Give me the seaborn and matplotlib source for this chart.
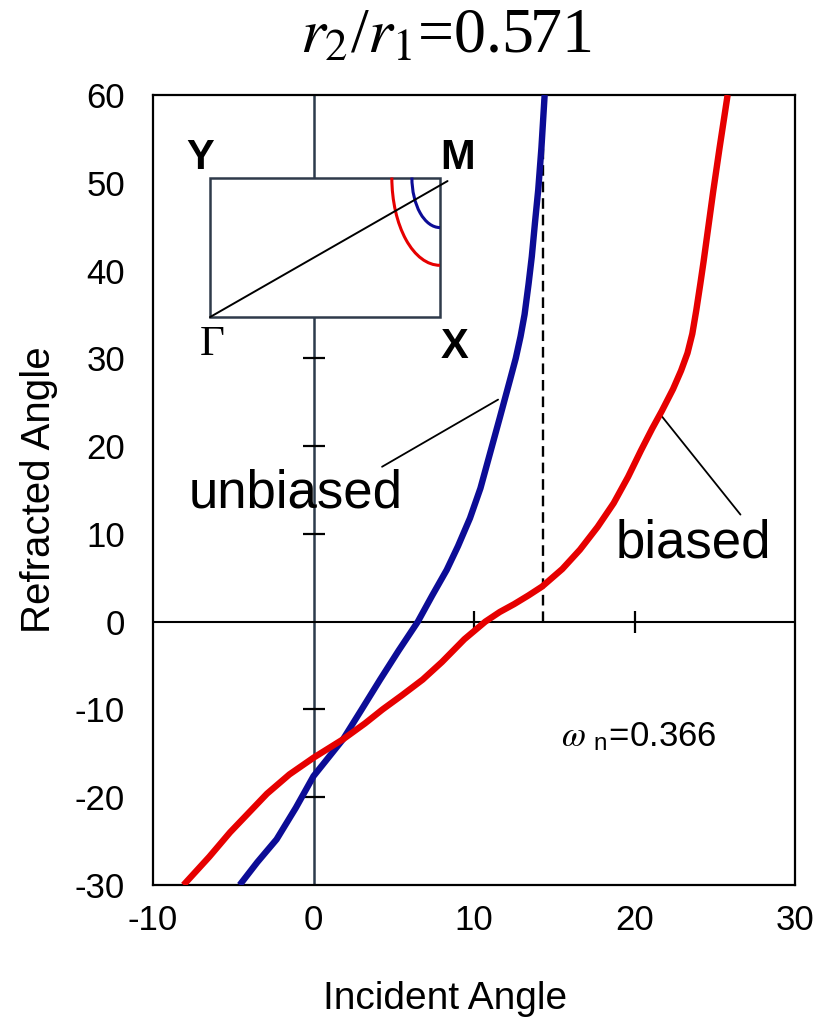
import numpy as np
import pandas as pd
import matplotlib
matplotlib.use("Agg")
import matplotlib.pyplot as plt
import seaborn as sns
from matplotlib.patches import Rectangle, Arc

# ---- data ----
unbiased_x = [-4.6, -3.5, -2.3, -1.1, 0.0, 1.84, 3.0, 4.15, 5.3, 6.5, 7.4, 8.3, 9.0,
              9.75, 10.4, 11.0, 11.6, 12.25, 12.6, 12.9, 13.15, 13.4, 13.6, 13.8,
              14.0, 14.2, 14.4]
unbiased_y = [-30.0, -27.4, -24.8, -21.2, -17.6, -13.4, -10.0, -6.6, -3.3, 0.0, 3.0, 5.9, 8.6,
              11.8, 15.2, 19.2, 23.2, 27.6, 30.0, 32.5, 35.0, 38.5, 41.6, 45.5,
              49.2, 54.0, 60.0]

biased_x = [-8.1, -6.5, -5.2, -2.9, -1.5, 0.0, 1.84, 3.2, 4.3, 5.5, 6.8, 8.0, 9.4, 10.7,
            11.6, 12.5, 13.4, 14.24, 15.5, 16.6, 17.7, 18.7, 19.6, 20.4, 21.1, 21.7,
            22.4, 22.9, 23.3, 23.6, 23.85, 24.1, 24.3, 24.6, 24.9, 25.3, 25.8]
biased_y = [-30.0, -26.8, -24.0, -19.6, -17.4, -15.5, -13.4, -11.6, -10.0, -8.4, -6.6, -4.6, -2.0, 0.0,
            1.1, 2.0, 3.0, 4.0, 6.0, 8.2, 10.8, 13.5, 16.5, 19.5, 22.0, 24.0,
            26.5, 28.6, 30.6, 32.8, 35.5, 38.5, 41.0, 45.0, 49.0, 54.0, 60.0]

cutoff_x = 14.3
x_ticks = [-10, 0, 10, 20, 30]
y_ticks = [-30, -20, -10, 0, 10, 20, 30, 40, 50, 60]
inner_x_ticks = [10, 20]
inner_y_ticks = [-20, -10, 10, 20, 30]

title = r"$r_2$/$r_1$=0.571"
omega_label = r"$\omega\ _\mathregular{n}$=0.366"

sns.set_theme(style="white")
plt.rcParams["font.family"] = ["Liberation Sans", "DejaVu Sans"]
plt.rcParams["mathtext.fontset"] = "stix"
plt.rcParams["axes.unicode_minus"] = False
for k in ["text.color", "axes.labelcolor", "xtick.color", "ytick.color"]:
    plt.rcParams[k] = "black"

df = pd.concat([
    pd.DataFrame({"x": unbiased_x, "y": unbiased_y, "s": "unbiased"}),
    pd.DataFrame({"x": biased_x, "y": biased_y, "s": "biased"}),
])

fig = plt.figure(figsize=(8.13, 10.23), dpi=100)
ax = fig.add_axes([0.1882, 0.1349, 0.7897, 0.7722])

# internal axes lines
ax.axvline(0, color="#2c3b4c", lw=1.8, zorder=1)
ax.axhline(0, color="black", lw=1.5, zorder=1)
ax.plot(inner_x_ticks, [0] * len(inner_x_ticks), ls="none", marker="|",
        ms=16, mew=1.6, color="black", zorder=1)
ax.plot([0] * len(inner_y_ticks), inner_y_ticks, ls="none", marker="_",
        ms=16, mew=1.6, color="black", zorder=1)

# dashed cutoff
ax.plot([cutoff_x, cutoff_x], [0, 60], color="black", lw=1.7,
        dashes=(4.5, 2.5), zorder=2)

sns.lineplot(data=df, x="x", y="y", hue="s", sort=False, estimator=None,
             palette={"unbiased": "#0c0c96", "biased": "#e60000"},
             lw=4.6, legend=False, ax=ax, zorder=4,
             solid_capstyle="butt", solid_joinstyle="round")

# inset Brillouin-zone sketch
x0, y0, w, h = -6.45, 34.7, 14.33, 15.9
ax.add_patch(Rectangle((x0, y0), w, h, facecolor="white", edgecolor="#2f3a4a",
                       lw=1.8, zorder=3))
ax.plot([x0, x0 + w + 0.47], [y0, y0 + h - 0.4], color="black", lw=1.4, zorder=3.5)
ax.add_patch(Arc((x0 + w, y0 + h), 2 * 3.0, 2 * 10.0, theta1=180, theta2=270,
                 color="#e60000", lw=2.2, zorder=3.4))
ax.add_patch(Arc((x0 + w, y0 + h), 2 * 1.75, 2 * 5.7, theta1=180, theta2=270,
                 color="#0c0c96", lw=2.2, zorder=3.4))
ax.text(-7.07, 52.8, "Y", fontsize=30, fontweight="bold", ha="center", va="center")
ax.text(9.0, 52.8, "M", fontsize=30, fontweight="bold", ha="center", va="center")
ax.text(8.8, 31.3, "X", fontsize=30, fontweight="bold", ha="center", va="center")
ax.text(-6.3, 31.6, "Γ", fontsize=31, family="Liberation Serif", ha="center", va="center")

# annotations
ax.plot([11.5, 4.27], [25.3, 17.65], color="black", lw=1.3, zorder=3)
ax.text(-1.1, 13.0, "unbiased", fontsize=38, ha="center", va="baseline")
ax.plot([21.7, 26.6], [23.4, 12.2], color="black", lw=1.3, zorder=3)
ax.text(23.65, 7.3, "biased", fontsize=38, ha="center", va="baseline")
ax.text(15.4, -14.2, omega_label, fontsize=25, ha="left", va="baseline")

ax.set_xlim(-10, 30)
ax.set_ylim(-30, 60)
ax.set_xticks(x_ticks)
ax.set_yticks(y_ticks)
ax.tick_params(axis="both", length=0, labelsize=25, colors="black")
ax.tick_params(axis="x", pad=14)
ax.tick_params(axis="y", pad=20)
for s in ax.spines.values():
    s.set_color("black")
    s.set_linewidth(1.6)
ax.set_xlabel("Incident Angle", fontsize=28)
ax.xaxis.set_label_coords(0.455, -0.122)
ax.set_ylabel("Refracted Angle", fontsize=29, labelpad=12)
fig.text(0.5485, 0.963, title, fontsize=46, ha="center", va="center",
         family="Liberation Serif")

fig.savefig("out.png", dpi=100)
